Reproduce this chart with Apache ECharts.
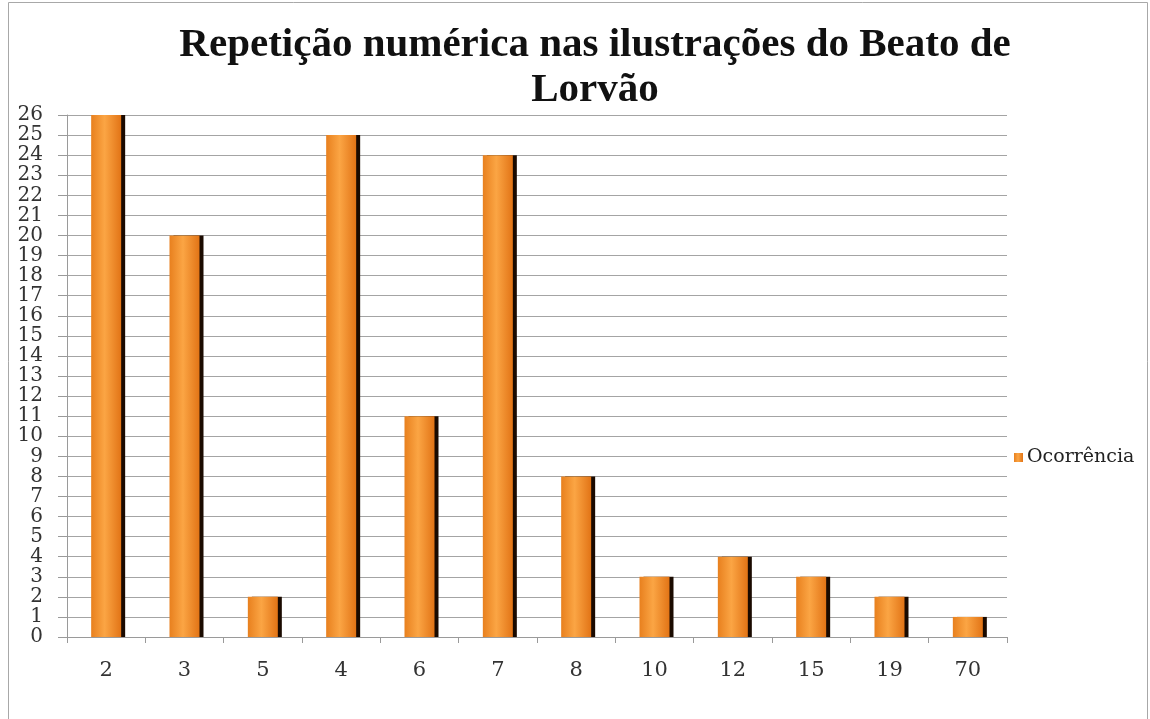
<!DOCTYPE html>
<html><head><meta charset="utf-8">
<script src="https://cdn.jsdelivr.net/npm/echarts@6/dist/echarts.min.js"></script>
<style>html,body{margin:0;padding:0;background:#fff}#c{width:1150px;height:719px}</style>
</head><body><div id="c"></div>
<script>
const categories = ['2','3','5','4','6','7','8','10','12','15','19','70'];
const ocorrencia = [26,20,2,25,11,24,8,3,4,3,2,1];
const seriesName = 'Ocorrência';
const titleText = 'Repetição numérica nas ilustrações do Beato de\nLorvão';

const chart = echarts.init(document.getElementById('c'));
const serif = '"Liberation Serif","DejaVu Serif",serif';
const serif2 = '"DejaVu Serif","Liberation Serif",serif';
chart.setOption({
  animation:false,
  backgroundColor:'#fff',
  graphic:[{type:'rect',shape:{x:8.5,y:2.5,width:1139,height:730},style:{fill:'none',stroke:'#a8a8a8',lineWidth:1},silent:true}],
  title:{text:titleText,left:590,textAlign:'center',top:18,
    textStyle:{fontFamily:serif,fontWeight:'bold',fontSize:41,lineHeight:45,color:'#111'}},
  legend:{data:[seriesName],left:1009,top:443,orient:'vertical',itemWidth:9,itemHeight:9,itemGap:4,
    icon:'rect',textStyle:{fontFamily:serif2,fontSize:19,color:'#222',padding:[0,0,0,-1]}},
  grid:{left:67,right:143,top:115,bottom:82,containLabel:false},
  xAxis:{type:'category',data:categories,
    axisLine:{lineStyle:{color:'#9a9a9a'}},
    axisTick:{show:true,length:6,lineStyle:{color:'#9a9a9a'}},
    axisLabel:{fontFamily:serif2,fontSize:21,color:'#333',margin:23}},
  yAxis:{type:'value',min:0,max:26,interval:1,
    axisLine:{show:true,lineStyle:{color:'#9a9a9a'}},
    axisTick:{show:true,length:9,lineStyle:{color:'#9a9a9a'}},
    splitLine:{lineStyle:{color:'#a4a4a4',width:1}},
    axisLabel:{fontFamily:serif2,fontSize:20,color:'#333',margin:24,lineHeight:18}},
  series:[{name:seriesName,type:'bar',data:ocorrencia,barWidth:30,
    itemStyle:{
      color:{type:'linear',x:0,y:0,x2:1,y2:0,colorStops:[
        {offset:0,color:'#e8801e'},{offset:0.45,color:'#fba544'},{offset:1,color:'#e27416'}]},
      shadowColor:'#1a0a00',shadowOffsetX:4,shadowOffsetY:0,shadowBlur:0
    }}]
});
</script></body></html>
